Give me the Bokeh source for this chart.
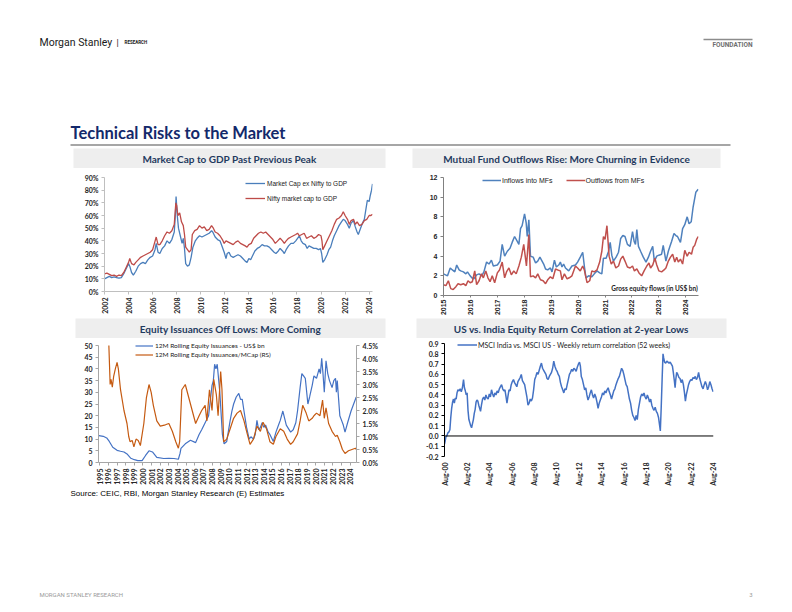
import math
from bokeh.plotting import figure
from bokeh.models import (Range1d, LinearAxis, FixedTicker, PrintfTickFormatter,
                          Legend, LegendItem, Label, Span)
from bokeh.layouts import column, row
from bokeh.embed import file_html
from bokeh.resources import INLINE

# ---------------- DATA ----------------
# Panel 1: Market cap to GDP (%)
mc_ex_years = [2002.0, 2002.2, 2002.4, 2002.6, 2002.8, 2003.0, 2003.2, 2003.4, 2003.6, 2003.8, 2004.0, 2004.1,
               2004.25, 2004.4, 2004.6, 2004.8, 2005.0, 2005.2, 2005.4, 2005.6, 2005.8, 2006.0, 2006.2, 2006.3,
               2006.45, 2006.6, 2006.8, 2007.0, 2007.2, 2007.4, 2007.6, 2007.8, 2007.9, 2007.95, 2008.05, 2008.15,
               2008.3, 2008.45, 2008.55, 2008.65, 2008.75, 2008.9, 2009.05, 2009.2, 2009.35, 2009.55, 2009.7,
               2009.9, 2010.1, 2010.3, 2010.5, 2010.7, 2010.9, 2011.0, 2011.2, 2011.4, 2011.6, 2011.8, 2011.95,
               2012.1, 2012.2, 2012.35, 2012.5, 2012.7, 2012.9, 2013.1, 2013.3, 2013.5, 2013.7, 2013.85, 2014.0,
               2014.15, 2014.3, 2014.5, 2014.7, 2014.9, 2015.1, 2015.3, 2015.5, 2015.7, 2015.9, 2016.1, 2016.25,
               2016.45, 2016.6, 2016.8, 2016.95, 2017.1, 2017.3, 2017.5, 2017.7, 2017.9, 2018.05, 2018.2, 2018.35,
               2018.5, 2018.7, 2018.85, 2019.0, 2019.2, 2019.4, 2019.6, 2019.8, 2019.95, 2020.05, 2020.15, 2020.3,
               2020.5, 2020.65, 2020.8, 2020.95, 2021.1, 2021.3, 2021.5, 2021.7, 2021.85, 2022.0, 2022.2, 2022.35,
               2022.5, 2022.7, 2022.85, 2023.0, 2023.1, 2023.25, 2023.45, 2023.6, 2023.75, 2023.85, 2024.0,
               2024.1, 2024.2, 2024.28]
mc_ex_nifty = [10, 11, 12, 11, 11.5, 11, 10.5, 11, 14, 18, 22, 20,
               15, 13, 16, 20, 22, 23, 22, 25, 27, 28, 33, 38,
               31, 30, 34, 36, 40, 38, 41, 47, 62, 75, 60, 50,
               44, 38, 42, 34, 22, 20, 21, 27, 35, 40, 42,
               44, 43, 44, 45, 46, 48, 47, 43, 41, 40, 35, 31,
               26, 30, 31, 28, 27, 28, 29, 28, 26, 24, 23, 26,
               25, 28, 32, 34, 35, 37, 36, 36, 35, 33, 31, 30,
               32, 34, 32, 30, 33, 36, 38, 38, 40, 42, 44, 40,
               38, 37, 34, 36, 35, 34, 34, 33, 34, 30, 23, 25,
               29, 33, 35, 40, 44, 48, 52, 55, 57, 56, 53, 50,
               54, 56, 51, 47, 45, 49, 54, 57, 66, 72, 71,
               76, 80, 85]
nifty_years = [2002.0, 2002.2, 2002.4, 2002.6, 2002.8, 2003.0, 2003.2, 2003.4, 2003.6, 2003.8, 2004.0, 2004.1,
               2004.25, 2004.45, 2004.6, 2004.8, 2005.0, 2005.2, 2005.4, 2005.6, 2005.8, 2006.0, 2006.15, 2006.3,
               2006.45, 2006.6, 2006.8, 2007.0, 2007.2, 2007.4, 2007.6, 2007.8, 2007.93, 2008.0, 2008.1, 2008.25,
               2008.4, 2008.55, 2008.65, 2008.75, 2008.9, 2009.05, 2009.2, 2009.3, 2009.5, 2009.7, 2009.9, 2010.1,
               2010.3, 2010.5, 2010.7, 2010.9, 2011.05, 2011.2, 2011.4, 2011.6, 2011.8, 2011.95, 2012.1, 2012.3,
               2012.5, 2012.7, 2012.9, 2013.1, 2013.3, 2013.5, 2013.7, 2013.85, 2014.0, 2014.2, 2014.4, 2014.6,
               2014.8, 2015.0, 2015.2, 2015.4, 2015.6, 2015.8, 2016.0, 2016.2, 2016.4, 2016.6, 2016.8, 2016.95,
               2017.1, 2017.3, 2017.5, 2017.7, 2017.9, 2018.05, 2018.2, 2018.4, 2018.6, 2018.8, 2019.0, 2019.2,
               2019.4, 2019.6, 2019.8, 2020.0, 2020.08, 2020.15, 2020.3, 2020.5, 2020.7, 2020.9, 2021.1, 2021.3,
               2021.5, 2021.7, 2021.85, 2022.0, 2022.2, 2022.35, 2022.5, 2022.7, 2022.85, 2023.0, 2023.2, 2023.4,
               2023.6, 2023.8, 2024.0, 2024.15, 2024.28]
nifty_mcap = [14, 14.5, 13.5, 12.5, 13, 12, 13, 12.5, 15, 19, 23, 26,
              22, 21, 23, 25, 27, 28, 29, 30, 31, 33, 38, 43,
              37, 37, 40, 44, 47, 46, 48, 53, 70, 68, 60, 62,
              55, 52, 45, 35, 33, 31, 33, 45, 48, 49, 52, 50,
              51, 48, 49, 52, 50, 47, 46, 44, 41, 38, 40, 39,
              38, 37, 39, 40, 38, 37, 36, 35, 37, 38, 42, 44,
              46, 47, 46, 47, 45, 43, 41, 38, 40, 42, 40, 38,
              40, 42, 43, 44, 45, 46, 44, 45, 46, 42, 43, 44,
              42, 43, 45, 44, 40, 33, 36, 40, 44, 48, 53, 57,
              58, 60, 63, 60, 57, 53, 56, 57, 53, 55, 52, 53,
              56, 57, 60, 60, 61]

# Panel 2: gross equity flows (US$ bn)
mf_in_years = [2015.00, 2015.15, 2015.25, 2015.33, 2015.42, 2015.49, 2015.58, 2015.64, 2015.74, 2015.83, 2015.89,
               2015.99, 2016.05, 2016.13, 2016.23, 2016.32, 2016.42, 2016.50, 2016.60, 2016.69, 2016.78, 2016.85,
               2017.00, 2017.10, 2017.18, 2017.27, 2017.37, 2017.47, 2017.55, 2017.64, 2017.74, 2017.80, 2017.86,
               2017.92, 2018.01, 2018.07, 2018.11, 2018.17, 2018.23, 2018.33, 2018.42, 2018.50, 2018.58, 2018.66,
               2018.72, 2018.79, 2018.87, 2018.97, 2019.03, 2019.12, 2019.19, 2019.28, 2019.34, 2019.40, 2019.46,
               2019.53, 2019.65, 2019.77, 2019.90, 2019.98, 2020.08, 2020.17, 2020.23, 2020.29, 2020.39, 2020.51,
               2020.60, 2020.70, 2020.80, 2020.88, 2020.94, 2021.04, 2021.13, 2021.19, 2021.25, 2021.31, 2021.41,
               2021.50, 2021.58, 2021.66, 2021.74, 2021.83, 2021.93, 2022.02, 2022.08, 2022.13, 2022.18, 2022.24,
               2022.32, 2022.42, 2022.52, 2022.61, 2022.69, 2022.77, 2022.83, 2022.92, 2023.00, 2023.10, 2023.16,
               2023.26, 2023.35, 2023.41, 2023.47, 2023.56, 2023.63, 2023.69, 2023.80, 2023.88, 2023.96, 2024.05,
               2024.12, 2024.20, 2024.27, 2024.37, 2024.46]
mf_inflows = [2.2, 2.0, 2.8, 2.6, 2.4, 3.1, 2.6, 2.5, 2.4, 2.2, 2.4,
              2.0, 1.8, 1.7, 2.1, 2.2, 2.0, 2.4, 3.4, 3.2, 3.6, 3.0,
              3.1, 3.5, 5.2, 4.0, 4.5, 4.8, 5.4, 6.0, 5.5, 5.2, 6.8,
              7.1, 8.3, 7.4, 6.0, 7.7, 4.0, 3.9, 3.3, 3.5, 3.9, 3.5,
              3.2, 2.7, 2.6, 2.8, 2.4, 3.6, 2.9, 3.1, 3.4, 2.9, 3.2,
              2.8, 2.5, 3.0, 3.1, 3.4, 3.9, 4.4, 3.0, 1.8, 2.0, 1.9,
              2.2, 2.5, 2.3, 2.2, 3.8, 3.8, 4.5, 5.4, 4.1, 3.5, 3.9,
              4.4, 5.8, 6.1, 6.0, 5.2, 5.0, 6.5, 5.5, 5.2, 6.7, 5.0,
              4.5, 3.9, 3.4, 3.9, 4.5, 5.0, 3.5, 4.0, 4.1, 4.2, 5.1,
              3.5, 4.5, 5.0, 5.5, 6.3, 6.1, 6.0, 5.4, 6.8, 7.2, 8.0,
              7.3, 7.5, 9.0, 10.5, 10.8]
mf_out_years = [2015.00, 2015.09, 2015.18, 2015.27, 2015.36, 2015.46, 2015.54, 2015.64, 2015.74, 2015.83, 2015.91,
                2015.99, 2016.07, 2016.16, 2016.23, 2016.32, 2016.41, 2016.48, 2016.57, 2016.65, 2016.73, 2016.81,
                2016.90, 2017.00, 2017.08, 2017.18, 2017.27, 2017.34, 2017.43, 2017.52, 2017.61, 2017.70, 2017.80,
                2017.89, 2017.98, 2018.08, 2018.17, 2018.23, 2018.33, 2018.42, 2018.50, 2018.60, 2018.70, 2018.79,
                2018.87, 2018.97, 2019.06, 2019.16, 2019.24, 2019.34, 2019.40, 2019.49, 2019.59, 2019.67, 2019.77,
                2019.90, 2019.98, 2020.08, 2020.17, 2020.23, 2020.33, 2020.43, 2020.51, 2020.60, 2020.70, 2020.80,
                2020.88, 2020.94, 2021.00, 2021.07, 2021.15, 2021.23, 2021.31, 2021.40, 2021.50, 2021.58, 2021.66,
                2021.74, 2021.83, 2021.93, 2022.02, 2022.09, 2022.18, 2022.26, 2022.36, 2022.45, 2022.55, 2022.63,
                2022.69, 2022.77, 2022.85, 2022.92, 2023.00, 2023.10, 2023.19, 2023.26, 2023.35, 2023.43, 2023.51,
                2023.59, 2023.66, 2023.72, 2023.80, 2023.88, 2023.96, 2024.05, 2024.12, 2024.21, 2024.27, 2024.33,
                2024.40, 2024.46]
mf_outflows = [1.1, 1.0, 1.5, 0.7, 0.6, 0.9, 1.2, 1.1, 1.2, 1.0, 1.5,
               1.3, 1.4, 2.5, 1.1, 1.5, 2.2, 1.8, 2.5, 1.8, 1.4, 2.0,
               1.3, 2.3, 2.6, 3.4, 1.8, 2.4, 2.8, 2.1, 2.5, 2.2, 3.0,
               3.9, 5.2, 3.0, 6.2, 1.9, 2.0, 1.8, 2.2, 1.6, 1.5, 1.2,
               1.6, 1.9, 1.7, 2.7, 2.6, 2.5, 1.6, 2.2, 1.7, 1.8, 2.0,
               3.0, 2.8, 2.5, 3.0, 2.6, 1.3, 1.5, 2.5, 2.4, 2.6, 3.4,
               4.5, 6.0, 5.7, 7.1, 4.0, 3.2, 3.5, 2.8, 3.0, 3.7, 4.0,
               3.5, 2.9, 2.8, 3.0, 2.5, 2.7, 2.3, 2.0, 2.5, 3.0, 3.3,
               2.8, 3.1, 3.8, 3.1, 2.5, 2.4, 2.6, 2.8, 3.5, 3.9, 4.2,
               3.4, 3.9, 3.4, 3.7, 3.2, 4.6, 4.0, 4.4, 4.2, 4.9, 5.1,
               5.7, 6.0]

# Panel 3: equity issuances
iss_years = [1994.9, 1995.4, 1995.8, 1996.1, 1996.5, 1997.0, 1997.4, 1997.8, 1998.2, 1998.6, 1999.0, 1999.4,
             1999.9, 2000.3, 2000.7, 2001.1, 2001.6, 2002.4, 2003.0, 2003.6, 2004.1, 2004.3, 2004.4, 2004.9,
             2005.5, 2006.1, 2006.5, 2006.8, 2007.2, 2007.6, 2008.0, 2008.15, 2008.3, 2008.45, 2008.6, 2008.9,
             2009.2, 2009.4, 2009.7, 2010.1, 2010.3, 2010.5, 2010.8, 2011.1, 2011.3, 2011.5, 2011.7, 2012.0,
             2012.3, 2012.5, 2012.8, 2013.0, 2013.2, 2013.4, 2013.6, 2013.8, 2014.0, 2014.2, 2014.5, 2014.7,
             2015.1, 2015.4, 2015.7, 2015.9, 2016.2, 2016.4, 2016.6, 2017.1, 2017.4, 2017.7, 2017.9, 2018.2,
             2018.4, 2018.6, 2018.8, 2019.1, 2019.3, 2019.6, 2019.8, 2020.1, 2020.25, 2020.4, 2020.55, 2020.7,
             2020.85, 2021.0, 2021.2, 2021.4, 2021.6, 2021.9, 2022.1, 2022.3, 2022.4, 2022.5, 2022.8, 2023.0,
             2023.2, 2023.4, 2023.7, 2024.1, 2024.4, 2024.7]
iss_usd_bn = [11.5, 11.2, 10.5, 9.0, 6.5, 5.2, 4.8, 4.5, 3.5, 1.8, 1.2, 0.8,
              0.8, 3.0, 5.0, 4.5, 2.2, 1.7, 1.8, 1.7, 1.4, 4.0, 6.0, 8.0,
              9.5, 8.5, 12.0, 14.0, 17.0, 20.0, 33.0, 35.0, 42.0, 40.0, 42.0, 30.0,
              12.0, 8.0, 9.0, 18.0, 22.0, 25.0, 28.0, 29.5, 27.0, 27.0, 22.0, 15.0,
              10.0, 11.0, 10.0, 12.0, 18.0, 14.0, 15.0, 17.0, 15.0, 16.0, 13.0, 12.0,
              9.0, 13.0, 16.0, 18.0, 22.0, 19.0, 16.0, 13.0, 14.0, 17.0, 22.0, 32.0,
              38.0, 37.0, 36.0, 25.0, 28.0, 33.0, 37.0, 36.0, 38.0, 40.0, 38.0, 44.5,
              38.0, 30.0, 43.5, 38.0, 35.0, 32.0, 35.0, 36.0, 30.0, 35.0, 20.0, 18.0,
              16.0, 13.0, 17.0, 22.0, 25.0, 28.0]
iss_pct_years = [1996.05, 1996.2, 1996.3, 1996.45, 1996.6, 1996.8, 1997.0, 1997.15, 1997.4, 1997.8, 1998.15,
                 1998.35, 1998.5, 1998.75, 1998.95, 1999.2, 1999.45, 1999.7, 2000.1, 2000.4, 2000.7, 2000.95,
                 2001.2, 2001.6, 2002.0, 2002.6, 2003.0, 2003.4, 2003.8, 2004.1, 2004.25, 2004.5, 2004.9, 2005.3,
                 2005.7, 2006.1, 2006.5, 2006.8, 2007.2, 2007.4, 2007.7, 2008.0, 2008.2, 2008.5, 2008.7, 2009.0,
                 2009.15, 2009.35, 2009.7, 2010.1, 2010.5, 2010.9, 2011.3, 2011.7, 2012.0, 2012.4, 2012.8, 2013.2,
                 2013.6, 2013.9, 2014.3, 2014.7, 2015.1, 2015.4, 2015.9, 2016.3, 2016.7, 2017.1, 2017.4, 2017.9,
                 2018.2, 2018.5, 2018.9, 2019.2, 2019.6, 2019.8, 2020.1, 2020.5, 2020.8, 2021.0, 2021.2, 2021.5,
                 2021.9, 2022.3, 2022.5, 2022.8, 2023.1, 2023.4, 2023.8, 2024.2, 2024.6, 2024.7]
iss_pct_mcap = [4.5, 3.0, 3.2, 2.9, 3.3, 3.6, 3.85, 3.6, 2.8, 2.0, 1.5,
                1.0, 0.8, 0.85, 0.6, 0.9, 0.85, 0.65, 1.5, 2.5, 3.0, 2.7,
                2.2, 1.6, 1.4, 1.45, 1.5, 1.2, 0.8, 0.55, 0.8, 2.8, 3.0, 2.5,
                2.0, 1.5, 1.8, 2.0, 2.2, 1.6, 2.8, 2.0, 3.2, 2.6, 1.8, 3.5,
                2.8, 0.8, 0.9, 1.3, 1.7, 1.9, 2.0, 1.6, 1.2, 0.7, 0.9, 1.4,
                1.2, 1.55, 1.3, 0.8, 0.7, 1.0, 1.3, 1.2, 0.9, 0.7, 0.8, 1.1,
                1.6, 2.2, 1.9, 1.6, 1.7, 1.8, 1.9, 1.8, 2.4, 1.7, 2.1, 1.5,
                1.2, 1.0, 1.05, 0.8, 0.5, 0.35, 0.45, 0.5, 0.55, 0.5]

# Panel 4: correlation, x = years since Aug-2000
corr_t = [0.00, 0.06, 0.12, 0.20, 0.30, 0.40, 0.48, 0.56, 0.64, 0.72, 0.80, 0.88, 0.96, 1.04, 1.12, 1.20,
          1.30, 1.40, 1.50, 1.60, 1.70, 1.78, 1.86, 1.94, 2.02, 2.10, 2.18, 2.26, 2.34, 2.42, 2.50, 2.58,
          2.66, 2.74, 2.82, 2.90, 2.98, 3.06, 3.14, 3.22, 3.30, 3.40, 3.50, 3.60, 3.70, 3.80, 3.90, 4.00,
          4.10, 4.20, 4.30, 4.40, 4.50, 4.60, 4.70, 4.80, 4.90, 5.00, 5.10, 5.20, 5.30, 5.40, 5.50, 5.58,
          5.66, 5.76, 5.86, 5.96, 6.06, 6.16, 6.26, 6.36, 6.46, 6.56, 6.66, 6.76, 6.86, 6.96, 7.06, 7.16,
          7.26, 7.36, 7.46, 7.56, 7.66, 7.76, 7.86, 7.96, 8.06, 8.16, 8.26, 8.36, 8.46, 8.56, 8.66, 8.76,
          8.86, 8.96, 9.06, 9.16, 9.26, 9.36, 9.46, 9.56, 9.66, 9.76, 9.86, 9.96, 10.06, 10.16, 10.26, 10.36,
          10.46, 10.56, 10.66, 10.76, 10.86, 10.96, 11.06, 11.16, 11.26, 11.36, 11.46, 11.56, 11.66, 11.76,
          11.86, 11.96, 12.06, 12.14, 12.22, 12.32, 12.42, 12.52, 12.62, 12.72, 12.82, 12.92, 13.02, 13.12,
          13.22, 13.32, 13.42, 13.52, 13.62, 13.72, 13.82, 13.92, 14.02, 14.12, 14.22, 14.32, 14.42, 14.52,
          14.62, 14.72, 14.82, 14.92, 15.02, 15.12, 15.22, 15.32, 15.42, 15.52, 15.62, 15.72, 15.82, 15.92,
          16.02, 16.12, 16.22, 16.32, 16.42, 16.52, 16.62, 16.72, 16.82, 16.92, 17.02, 17.12, 17.22, 17.32,
          17.42, 17.52, 17.62, 17.72, 17.82, 17.92, 18.02, 18.12, 18.22, 18.32, 18.42, 18.52, 18.62, 18.72,
          18.82, 18.92, 19.02, 19.12, 19.22, 19.28, 19.36, 19.44, 19.52, 19.58, 19.66, 19.76, 19.86, 19.96,
          20.06, 20.16, 20.26, 20.36, 20.44, 20.52, 20.60, 20.66, 20.74, 20.84, 20.94, 21.04, 21.14, 21.24,
          21.34, 21.44, 21.52, 21.60, 21.70, 21.80, 21.90, 22.00, 22.10, 22.20, 22.30, 22.40, 22.50, 22.60,
          22.70, 22.80, 22.90, 23.00, 23.10, 23.20, 23.30, 23.40, 23.50, 23.60, 23.70, 23.80, 23.90, 24.00]
corr_val = [-0.08, -0.05, -0.01, 0.00, 0.03, 0.04, 0.06, 0.18, 0.27, 0.33, 0.36, 0.32, 0.37, 0.36, 0.42, 0.45,
            0.44, 0.46, 0.43, 0.47, 0.55, 0.47, 0.44, 0.40, 0.42, 0.25, 0.16, 0.13, 0.10, 0.08, 0.12, 0.16,
            0.22, 0.26, 0.33, 0.35, 0.34, 0.30, 0.27, 0.24, 0.30, 0.36, 0.38, 0.35, 0.40, 0.37, 0.36, 0.41,
            0.38, 0.45, 0.41, 0.38, 0.42, 0.40, 0.44, 0.42, 0.46, 0.48, 0.50, 0.46, 0.44, 0.45, 0.38, 0.32,
            0.38, 0.45, 0.44, 0.50, 0.53, 0.55, 0.52, 0.50, 0.48, 0.53, 0.55, 0.57, 0.60, 0.54, 0.52, 0.50,
            0.44, 0.38, 0.30, 0.32, 0.36, 0.34, 0.37, 0.45, 0.55, 0.58, 0.62, 0.60, 0.64, 0.68, 0.71, 0.66,
            0.64, 0.62, 0.60, 0.56, 0.55, 0.58, 0.60, 0.62, 0.66, 0.73, 0.68, 0.65, 0.63, 0.60, 0.58, 0.52,
            0.48, 0.45, 0.42, 0.46, 0.45, 0.50, 0.55, 0.60, 0.62, 0.65, 0.63, 0.66, 0.65, 0.63,
            0.67, 0.70, 0.72, 0.68, 0.58, 0.55, 0.50, 0.45, 0.47, 0.40, 0.35, 0.38, 0.42, 0.45,
            0.40, 0.37, 0.41, 0.38, 0.33, 0.27, 0.32, 0.35, 0.38, 0.42, 0.40, 0.44, 0.42, 0.45,
            0.47, 0.43, 0.40, 0.36, 0.40, 0.44, 0.46, 0.50, 0.53, 0.56, 0.58, 0.62, 0.66, 0.64,
            0.60, 0.55, 0.50, 0.48, 0.42, 0.36, 0.32, 0.25, 0.20, 0.18, 0.15, 0.20, 0.16, 0.26,
            0.32, 0.38, 0.41, 0.39, 0.42, 0.38, 0.36, 0.40, 0.37, 0.33, 0.36, 0.30, 0.27, 0.25,
            0.28, 0.24, 0.22, 0.18, 0.10, 0.05, 0.28, 0.55, 0.80, 0.76, 0.72, 0.71, 0.73, 0.72,
            0.71, 0.72, 0.70, 0.68, 0.62, 0.55, 0.47, 0.55, 0.62, 0.60, 0.57, 0.56, 0.52, 0.55,
            0.50, 0.42, 0.34, 0.40, 0.45, 0.50, 0.53, 0.55, 0.54, 0.57, 0.56, 0.58, 0.55, 0.57,
            0.62, 0.56, 0.52, 0.48, 0.46, 0.50, 0.53, 0.50, 0.45, 0.48, 0.53, 0.50, 0.46, 0.43]
corr_tick_pos = [0, 2, 4, 6, 8, 10, 12, 14, 16, 18, 20, 22, 24]
corr_tick_labels = ["Aug-00", "Aug-02", "Aug-04", "Aug-06", "Aug-08", "Aug-10", "Aug-12",
                    "Aug-14", "Aug-16", "Aug-18", "Aug-20", "Aug-22", "Aug-24"]

# ---------------- STYLE HELPERS ----------------
TICK_FONT = "Lato"
TITLE_BLUE = "#13296b"
BAR_TEXT = "#1f3a5f"
BAR_BG = "#eeeeee"


def decor(w, h, x0, x1, y0, y1):
    p = figure(width=w, height=h, x_range=Range1d(x0, x1), y_range=Range1d(y1, y0),
               x_axis_type=None, y_axis_type=None, output_backend="svg",
               toolbar_location=None, min_border=0, frame_align=False)
    p.outline_line_color = None
    return p


def chart(w, h, xr, yr, bl, br, bt, bb):
    p = figure(width=w, height=h, x_range=xr, y_range=yr, output_backend="svg",
               toolbar_location=None, min_border_left=bl, min_border_right=br,
               min_border_top=bt, min_border_bottom=bb, frame_align=False)
    p.xgrid.visible = False
    p.ygrid.visible = False
    p.outline_line_color = None
    return p


def style_axis(ax, font=TICK_FONT, size="7.5px", color="#262626", line="#a6a6a6"):
    ax.axis_line_color = line
    ax.major_tick_line_color = line
    ax.major_tick_out = 3
    ax.major_tick_in = 0
    ax.minor_tick_line_color = None
    ax.major_label_text_font = font
    ax.major_label_text_font_size = size
    ax.major_label_text_font_style = "bold"
    ax.major_label_text_color = color
    ax.major_label_standoff = 3


def make_legend(items, loc, orientation="vertical", font="Liberation Sans", size="6.5px",
                lh=10, spacing=4, gw=20, standoff=2):
    lg = Legend(items=items, location=loc, orientation=orientation,
                background_fill_alpha=0, border_line_color=None, padding=0, margin=0,
                spacing=spacing, label_standoff=standoff, glyph_width=gw, glyph_height=lh,
                label_height=lh, label_text_font=font, label_text_font_size=size,
                label_text_color="#222222")
    return lg


def title_bar(w, h, bl, br, bt, bb, text):
    # the plot frame itself is the grey title box
    p = figure(width=w, height=h, x_range=Range1d(0, 1), y_range=Range1d(0, 1),
               x_axis_type=None, y_axis_type=None, output_backend="svg", toolbar_location=None,
               min_border_left=bl, min_border_right=br, min_border_top=bt, min_border_bottom=bb,
               frame_align=False)
    p.outline_line_color = None
    p.background_fill_color = BAR_BG
    p.border_fill_color = "white"
    p.add_layout(Label(x=0.5, y=0.5, text=text, text_align="center", text_baseline="middle",
                       text_font="Lato", text_font_style="bold", text_font_size="10px",
                       text_color=BAR_TEXT))
    return p


# ---------------- TOP BAND (page y 0..146) ----------------
top = decor(792, 146, 0, 792, 0, 146)
top.add_layout(Label(x=39, y=42, text="Morgan Stanley", text_font="Roboto", text_font_size="10.5px",
                     text_color="#1a1a1a", text_baseline="middle"))
top.add_layout(Label(x=116, y=42, text="|", text_font="Roboto", text_font_size="9px",
                     text_color="#1a1a1a", text_baseline="middle"))
top.add_layout(Label(x=124, y=42, text="RESEARCH", text_font="Roboto", text_font_size="4.5px",
                     text_font_style="bold", text_color="#1a1a1a", text_baseline="middle"))
top.segment(x0=[703], y0=[39], x1=[752], y1=[39], line_color="#8c8c8c", line_width=1.5)
top.add_layout(Label(x=752, y=44.5, text="FOUNDATION", text_font="Roboto", text_font_size="6.5px",
                     text_font_style="bold", text_color="#6e6e6e", text_align="right",
                     text_baseline="middle"))
top.add_layout(Label(x=70, y=132, text="Technical Risks to the Market", text_font="Lato",
                     text_font_style="bold", text_font_size="16.5px", text_color=TITLE_BLUE,
                     text_baseline="middle"))
top.segment(x0=[70], y0=[144.5], x1=[730], y1=[144.5], line_color="#a6a6a6", line_width=2)

# ---------------- PANEL 1 (x 0..400, y 146..318) ----------------
bar1 = title_bar(400, 22, 73, 15, 2, 0, "Market Cap to GDP Past Previous Peak")
p1 = chart(400, 150, Range1d(2002, 2024.28), Range1d(0, 90), 104, 28, 9, 27)
r1a = p1.line(mc_ex_years, mc_ex_nifty, line_color="#4a7ebb", line_width=1.3)
r1b = p1.line(nifty_years, nifty_mcap, line_color="#be4b48", line_width=1.3)
p1.yaxis.ticker = FixedTicker(ticks=list(range(0, 91, 10)))
p1.yaxis.formatter = PrintfTickFormatter(format="%d%%")
p1.xaxis.ticker = FixedTicker(ticks=list(range(2002, 2025, 2)))
p1.xaxis.major_label_orientation = math.pi / 2
for ax in (p1.xaxis[0], p1.yaxis[0]):
    style_axis(ax, size="7px", line="#bfbfbf")
lg1 = make_legend([LegendItem(label="Market Cap ex Nifty to GDP", renderers=[r1a]),
                   LegendItem(label="Nifty market cap to GDP", renderers=[r1b])],
                  (141, 88), size="6.5px", lh=10, spacing=5)
p1.add_layout(lg1)

# ---------------- PANEL 2 (x 400..792, y 146..318) ----------------
bar2 = title_bar(392, 22, 12, 72, 2, 0, "Mutual Fund Outflows Rise: More Churning in Evidence")
p2 = chart(392, 150, Range1d(2015, 2024.47), Range1d(0, 12.51), 43, 94, 4, 23)
r2a = p2.line(mf_in_years, mf_inflows, line_color="#4f81bd", line_width=1.5)
r2b = p2.line(mf_out_years, mf_outflows, line_color="#c0504d", line_width=1.5)
p2.yaxis.ticker = FixedTicker(ticks=list(range(0, 13, 2)))
p2.yaxis.bounds = (0, 12)
p2.xaxis.ticker = FixedTicker(ticks=list(range(2015, 2025)))
p2.xaxis.major_label_orientation = math.pi / 2
for ax in (p2.xaxis[0], p2.yaxis[0]):
    style_axis(ax, font="Liberation Sans", size="7px", line="#808080")
p2.xaxis.major_tick_out = 2
p2.xaxis.major_label_standoff = 2
lg2 = make_legend([LegendItem(label="Inflows into MFs", renderers=[r2a]),
                   LegendItem(label="Outflows from MFs", renderers=[r2b])],
                  (39, 111), orientation="horizontal", size="7px", lh=8, spacing=13, gw=19,
                  standoff=1)
p2.add_layout(lg2)
p2.add_layout(Label(x=2024.45, y=0.75, text="Gross equity flows (in US$ bn)", text_align="right",
                    text_baseline="middle", text_font="Lato", text_font_style="bold",
                    text_font_size="6.5px", text_color="#222222"))

# ---------------- PANEL 3 (x 0..400, y 318..488) ----------------
bar3 = title_bar(400, 20, 75, 15, 0, 0, "Equity Issuances Off Lows: More Coming")
p3 = chart(400, 150, Range1d(1994.85, 2024.73), Range1d(0, 53), 98, 44, 0, 26)
p3.extra_y_ranges = {"pct": Range1d(0, 4.77)}
r3a = p3.line(iss_years, iss_usd_bn, line_color="#4472c4", line_width=1.2)
r3b = p3.line(iss_pct_years, iss_pct_mcap, line_color="#c55a11", line_width=1.2, y_range_name="pct")
p3.yaxis.ticker = FixedTicker(ticks=list(range(0, 51, 5)))
p3.yaxis.bounds = (0, 50)
p3.xaxis.ticker = FixedTicker(ticks=list(range(1995, 2025)))
p3.xaxis.major_label_orientation = math.pi / 2
rax = LinearAxis(y_range_name="pct", ticker=FixedTicker(ticks=[i * 0.5 for i in range(10)]),
                 formatter=PrintfTickFormatter(format="%.1f%%"), bounds=(0, 4.5))
p3.add_layout(rax, "right")
for ax in (p3.xaxis[0], p3.yaxis[0], rax):
    style_axis(ax, size="7px", line="#a6a6a6")
lg3 = make_legend([LegendItem(label="12M Rolling Equity Issuances - US$ bn", renderers=[r3a]),
                   LegendItem(label="12M Rolling Equity Issuances/MCap (RS)", renderers=[r3b])],
                  (37, 103), font="Lato", size="6.5px", lh=9, spacing=0, gw=18, standoff=2)
p3.add_layout(lg3)

# ---------------- PANEL 4 (x 400..792, y 318..488) ----------------
bar4 = title_bar(392, 20, 16, 66, 0, 0, "US vs. India Equity Return Correlation at 2-year Lows")
p4 = chart(392, 150, Range1d(0, 24.03), Range1d(-0.2, 0.95), 44, 79, 0, 29)
r4 = p4.line(corr_t, corr_val, line_color="#4472c4", line_width=1.5)
p4.add_layout(Span(location=0, dimension="width", line_color="#000000", line_width=1))
p4.yaxis.ticker = FixedTicker(ticks=[round(-0.2 + 0.1 * i, 1) for i in range(12)])
p4.yaxis.formatter = PrintfTickFormatter(format="%.1f")
p4.yaxis.bounds = (-0.2, 0.9)
p4.xaxis.ticker = FixedTicker(ticks=corr_tick_pos)
p4.xaxis.major_label_overrides = {t: l for t, l in zip(corr_tick_pos, corr_tick_labels)}
p4.xaxis.major_label_orientation = math.pi / 2
style_axis(p4.yaxis[0], size="7px", line="#000000")
style_axis(p4.xaxis[0], size="7px", line="#000000")
p4.xaxis.axis_line_color = None
p4.xaxis.major_tick_line_color = None
lg4 = make_legend([LegendItem(label="MSCI India vs. MSCI US - Weekly return correlation (52 weeks)",
                              renderers=[r4])],
                  (13, 107), font="Lato", size="7px", lh=9, spacing=0, gw=20, standoff=1)
p4.add_layout(lg4)

# ---------------- BOTTOM BAND (y 488..612) ----------------
bot = decor(792, 124, 0, 792, 488, 612)
bot.add_layout(Label(x=70, y=493, text="Source: CEIC, RBI, Morgan Stanley Research (E) Estimates",
                     text_font="Liberation Sans", text_font_size="8px", text_color="#000000",
                     text_baseline="middle"))
bot.add_layout(Label(x=39, y=594, text="MORGAN STANLEY RESEARCH", text_font="Roboto",
                     text_font_size="6px", text_color="#9a9a9a", text_baseline="middle"))
bot.add_layout(Label(x=752, y=594, text="3", text_font="Roboto", text_font_size="6px",
                     text_color="#9a9a9a", text_align="right", text_baseline="middle"))

layout = column(top,
                row(column(bar1, p1), column(bar2, p2)),
                row(column(bar3, p3), column(bar4, p4)),
                bot)

open("out.html", "w").write(file_html(layout, INLINE))
